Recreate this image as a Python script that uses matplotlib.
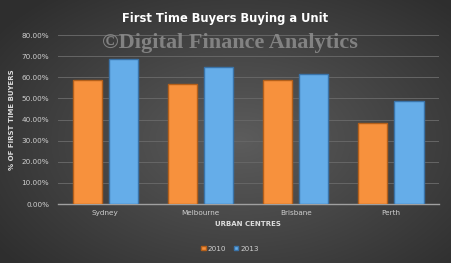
import numpy as np
import matplotlib
matplotlib.use("Agg")
import matplotlib.pyplot as plt
from matplotlib.ticker import FuncFormatter

cidades = ["Sydney", "Melbourne", "Brisbane", "Perth"]
v2010 = [58.6, 56.9, 58.6, 38.6]
v2013 = [68.8, 64.8, 61.8, 48.6]
anos = ["2010", "2013"]

fig = plt.figure(figsize=(4.51, 2.63), dpi=100)

# fundo cinza com degrade radial
bg = fig.add_axes([0, 0, 1, 1], zorder=-5)
yy, xx = np.mgrid[0:263, 0:451]
d = np.sqrt(((xx - 240) / 300.0) ** 2 + ((yy - 140) / 190.0) ** 2)
d = np.clip(d, 0, 1)
c_centro = np.array([0x5c, 0x5c, 0x5c]) / 255
c_borda = np.array([0x2e, 0x2e, 0x2e]) / 255
img = c_centro[None, None, :] * (1 - d[..., None]) + c_borda[None, None, :] * d[..., None]
bg.imshow(img, aspect="auto", extent=[0, 1, 0, 1], origin="upper")
bg.axis("off")

ax = fig.add_axes([0.1275, 0.2243, 0.845, 0.642])
ax.set_facecolor("none")

x = np.arange(len(cidades))
w = 0.305
gap = 0.074
ax.bar(x - (w + gap) / 2, v2010, w, color="#f7913d", edgecolor="#b35f1a", linewidth=1.0, label=anos[0], zorder=3)
ax.bar(x + (w + gap) / 2, v2013, w, color="#65ade9", edgecolor="#3a73a8", linewidth=1.0, label=anos[1], zorder=3)

ax.set_xlim(-0.5, len(cidades) - 0.5)
ax.set_ylim(0, 80)
ax.set_yticks(np.arange(0, 81, 10))
ax.yaxis.set_major_formatter(FuncFormatter(lambda v, p: f"{v:.2f}%"))
ax.set_xticks(x)
ax.set_xticklabels(cidades)
ax.grid(axis="y", color="#666666", linewidth=0.7, zorder=0)
ax.tick_params(axis="both", length=0, labelsize=5.2, colors="#cfcfcf", pad=6)
ax.tick_params(axis="x", pad=4)
for s in ["top", "right", "left"]:
    ax.spines[s].set_visible(False)
ax.spines["bottom"].set_color("#a0a0a0")
ax.spines["bottom"].set_linewidth(1.0)

ax.set_ylabel("% OF FIRST TIME BUYERS", fontsize=5, fontweight="bold", color="#dddddd", labelpad=5)
ax.set_xlabel("URBAN CENTRES", fontsize=5, fontweight="bold", color="#dddddd", labelpad=4)

fig.text(0.50, 0.93, "First Time Buyers Buying a Unit", ha="center", va="center",
         fontsize=8.3, fontweight="bold", color="white")
fig.text(0.51, 0.835, "\u00a9Digital Finance Analytics", ha="center", va="center",
         fontsize=16, fontweight="bold", family="Liberation Serif", color="#8e8e8e", alpha=0.85)

leg = fig.legend(loc="center", bbox_to_anchor=(0.51, 0.055), ncol=2, frameon=False,
                 fontsize=5.2, handlelength=0.6, handleheight=0.6, columnspacing=1.0, handletextpad=0.3)
for t in leg.get_texts():
    t.set_color("#d0d0d0")

fig.savefig("out.png", dpi=100)
